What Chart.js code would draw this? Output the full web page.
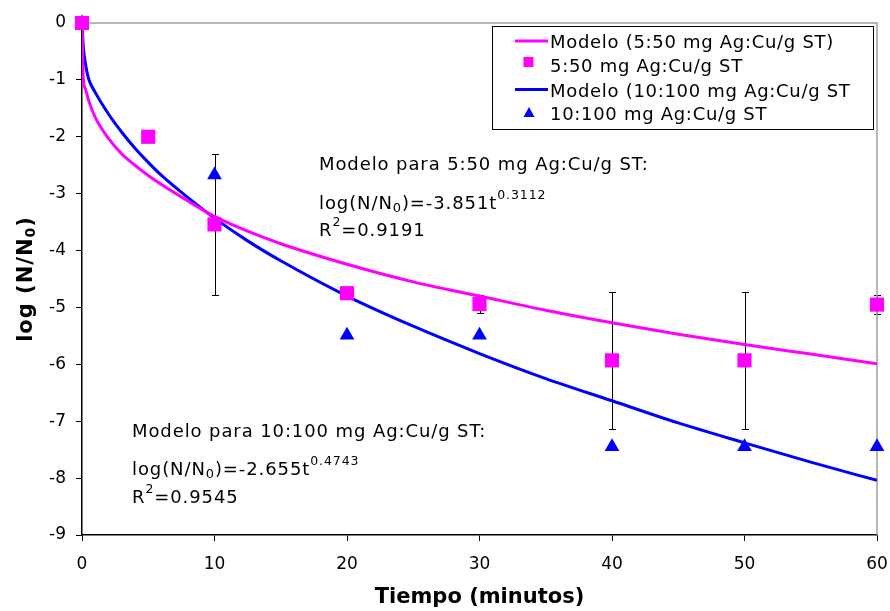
<!DOCTYPE html>
<html>
<head>
<meta charset="utf-8">
<script src="https://cdn.jsdelivr.net/npm/chart.js@4/dist/chart.umd.min.js"></script>
<style>
  html, body { margin: 0; padding: 0; background: #fff; }
  #wrap { width: 890px; height: 611px; position: relative; }
</style>
</head>
<body>
<div id="wrap"><canvas id="chart" width="890" height="611"></canvas></div>
<script>
// measured points (minutes vs log reduction)
const tiempoMagenta = [0, 5, 10, 20, 30, 40, 50, 60];
const logMagenta = [0, -2.0, -3.54, -4.75, -4.94, -5.93, -5.93, -4.95];
const errMagenta = [0, 0, 1.24, 0, 0.16, 1.2, 1.2, 0.17];

const tiempoAzul = [0, 10, 20, 30, 40, 50, 60];
const logAzul = [0, -2.67, -5.49, -5.49, -7.45, -7.45, -7.45];

// fitted model curves, sampled along time
const tiempoModelo = [0, 0.1, 0.25, 0.5, 1, 2, 3, 4, 5, 6, 8, 10, 12.5, 15, 20, 25, 30, 35, 40, 45, 50, 55, 60];
const modeloMagenta = [0, -0.98, -1.15, -1.36, -1.66, -2.03, -2.3, -2.5, -2.68, -2.84, -3.13, -3.4, -3.66, -3.88, -4.24, -4.55, -4.8, -5.05, -5.27, -5.47, -5.65, -5.82, -5.99];
const modeloAzul = [0, -0.42, -0.7, -0.98, -1.22, -1.6, -1.92, -2.2, -2.45, -2.68, -3.07, -3.43, -3.83, -4.18, -4.8, -5.33, -5.81, -6.25, -6.64, -7.03, -7.38, -7.72, -8.04];

const xTicks = [0, 10, 20, 30, 40, 50, 60];
const yTicks = [0, -1, -2, -3, -4, -5, -6, -7, -8, -9];

const MAGENTA = '#ff00ff';
const AZUL = '#0000ff';
const FONT = '"DejaVu Sans", Verdana, sans-serif';

const pairs = (xs, ys) => xs.map((x, i) => ({ x: x, y: ys[i] }));

const legendItems = [
  { text: 'Modelo (5:50 mg Ag:Cu/g ST)', color: MAGENTA, kind: 'line' },
  { text: '5:50 mg Ag:Cu/g ST', color: MAGENTA, kind: 'rect' },
  { text: 'Modelo (10:100 mg Ag:Cu/g ST', color: AZUL, kind: 'line' },
  { text: '10:100 mg Ag:Cu/g ST', color: AZUL, kind: 'triangle' }
];

const notes = [
  { x: 319, y: 170, parts: [{ t: 'Modelo para 5:50 mg Ag:Cu/g ST:' }] },
  { x: 319, y: 209, parts: [{ t: 'log(N/N' }, { t: '0', sub: true }, { t: ')=-3.851t' }, { t: '0.3112', sup: true }] },
  { x: 319, y: 236, parts: [{ t: 'R' }, { t: '2', sup: true }, { t: '=0.9191' }] },
  { x: 132, y: 437, parts: [{ t: 'Modelo para 10:100 mg Ag:Cu/g ST:' }] },
  { x: 132, y: 475, parts: [{ t: 'log(N/N' }, { t: '0', sub: true }, { t: ')=-2.655t' }, { t: '0.4743', sup: true }] },
  { x: 132, y: 503, parts: [{ t: 'R' }, { t: '2', sup: true }, { t: '=0.9545' }] }
];

function drawRich(ctx, x, y, parts, size) {
  let cx = x;
  parts.forEach(p => {
    const fs = p.sub ? 13 : (p.sup ? 12.5 : size);
    ctx.font = fs + 'px ' + FONT;
    const dy = p.sub ? 2.5 : (p.sup ? -10 : 0);
    ctx.fillText(p.t, cx, y + dy);
    cx += ctx.measureText(p.t).width;
  });
}

// error bars behind the markers
const errorBars = {
  id: 'errorBars',
  beforeDatasetsDraw(chart) {
    const ctx = chart.ctx;
    const xs = chart.scales.x, ys = chart.scales.y;
    ctx.save();
    ctx.strokeStyle = '#000';
    ctx.lineWidth = 1;
    tiempoMagenta.forEach((t, i) => {
      const e = errMagenta[i];
      if (!e) return;
      const px = Math.round(xs.getPixelForValue(t)) + 0.5;
      const top = Math.round(ys.getPixelForValue(logMagenta[i] + e)) + 0.5;
      const bot = Math.round(ys.getPixelForValue(logMagenta[i] - e)) + 0.5;
      ctx.beginPath();
      ctx.moveTo(px, top); ctx.lineTo(px, bot);
      ctx.moveTo(px - 3.5, top); ctx.lineTo(px + 3.5, top);
      ctx.moveTo(px - 3.5, bot); ctx.lineTo(px + 3.5, bot);
      ctx.stroke();
    });
    ctx.restore();
  }
};

// plot frame, titles, model notes and legend box
const decor = {
  id: 'decor',
  beforeDatasetsDraw(chart) {
    const ctx = chart.ctx, a = chart.chartArea;
    ctx.save();
    ctx.strokeStyle = '#a0a0a0';
    ctx.lineWidth = 1.5;
    ctx.beginPath();
    ctx.moveTo(a.left, a.top); ctx.lineTo(a.right, a.top); ctx.lineTo(a.right, a.bottom);
    ctx.stroke();
    ctx.restore();
  },
  afterDraw(chart) {
    const ctx = chart.ctx, a = chart.chartArea;
    ctx.save();
    ctx.fillStyle = '#000';
    ctx.textBaseline = 'alphabetic';
    ctx.textAlign = 'left';
    ctx.letterSpacing = '0.9px';
    notes.forEach(n => drawRich(ctx, n.x, n.y, n.parts, 18));

    // axis titles
    ctx.letterSpacing = '0px';
    ctx.font = 'bold 21px ' + FONT;
    ctx.textAlign = 'center';
    ctx.textBaseline = 'middle';
    ctx.fillText('Tiempo (minutos)', (a.left + a.right) / 2, 598);
    ctx.save();
    ctx.translate(24, (a.top + a.bottom) / 2);
    ctx.rotate(-Math.PI / 2);
    ctx.letterSpacing = '1px';
    ctx.textAlign = 'left';
    ctx.textBaseline = 'alphabetic';
    const t1 = 'log (N/N', t2 = '0', t3 = ')';
    const w1 = ctx.measureText(t1).width;
    ctx.font = 'bold 14px ' + FONT;
    const w2 = ctx.measureText(t2).width;
    ctx.font = 'bold 21px ' + FONT;
    const w3 = ctx.measureText(t3).width;
    let sx = -(w1 + w2 + w3) / 2;
    const base = 8;
    ctx.fillText(t1, sx, base); sx += w1;
    ctx.font = 'bold 14px ' + FONT;
    ctx.fillText(t2, sx, base + 3); sx += w2;
    ctx.font = 'bold 21px ' + FONT;
    ctx.fillText(t3, sx, base);
    ctx.restore();

    // legend
    const bx = 492.5, by = 26.5, bw = 381, bh = 103;
    ctx.fillStyle = '#fff';
    ctx.fillRect(bx, by, bw, bh);
    ctx.strokeStyle = '#000';
    ctx.lineWidth = 1;
    ctx.strokeRect(bx, by, bw, bh);
    const baselines = [47.5, 72, 96.5, 120];
    const marks = [41, 62, 89.5, 112];
    ctx.font = '18px ' + FONT;
    ctx.letterSpacing = '0.7px';
    ctx.textAlign = 'left';
    ctx.textBaseline = 'alphabetic';
    legendItems.forEach((it, i) => {
      const y = marks[i];
      ctx.fillStyle = it.color;
      ctx.strokeStyle = it.color;
      if (it.kind === 'line') {
        ctx.lineWidth = 3;
        ctx.beginPath(); ctx.moveTo(515, y); ctx.lineTo(548, y); ctx.stroke();
      } else if (it.kind === 'rect') {
        ctx.fillRect(523.5, y - 5, 10, 10);
      } else {
        ctx.beginPath();
        ctx.moveTo(529, y - 5); ctx.lineTo(534.5, y + 5); ctx.lineTo(523.5, y + 5);
        ctx.closePath(); ctx.fill();
      }
      ctx.fillStyle = '#000';
      ctx.fillText(it.text, 550, baselines[i]);
    });
    ctx.restore();
  }
};

new Chart(document.getElementById('chart'), {
  type: 'scatter',
  data: {
    datasets: [
      {
        label: '5:50 mg Ag:Cu/g ST',
        data: pairs(tiempoMagenta, logMagenta),
        pointStyle: 'rect',
        pointRadius: 10,
        backgroundColor: MAGENTA,
        borderColor: MAGENTA,
        borderWidth: 0,
        clip: false
      },
      {
        label: '10:100 mg Ag:Cu/g ST',
        data: pairs(tiempoAzul, logAzul),
        pointStyle: 'triangle',
        pointRadius: 8.5,
        backgroundColor: AZUL,
        borderColor: AZUL,
        borderWidth: 0,
        clip: false
      },
      {
        label: 'Modelo (5:50 mg Ag:Cu/g ST)',
        data: pairs(tiempoModelo, modeloMagenta),
        showLine: true,
        cubicInterpolationMode: 'monotone',
        borderColor: MAGENTA,
        borderWidth: 3,
        pointRadius: 0
      },
      {
        label: 'Modelo (10:100 mg Ag:Cu/g ST',
        data: pairs(tiempoModelo, modeloAzul),
        showLine: true,
        cubicInterpolationMode: 'monotone',
        borderColor: AZUL,
        borderWidth: 3,
        pointRadius: 0
      }
    ]
  },
  options: {
    responsive: false,
    animation: false,
    events: [],
    layout: { padding: { top: 23, right: 13, left: 0, bottom: 0 } },
    plugins: { legend: { display: false }, tooltip: { enabled: false } },
    scales: {
      x: {
        type: 'linear',
        min: 0, max: 60,
        afterBuildTicks: s => { s.ticks = xTicks.map(v => ({ value: v })); },
        afterFit: s => { s.height = 76; s.paddingLeft = 0; s.paddingRight = 0; },
        grid: { display: true, drawOnChartArea: false, drawTicks: true, tickLength: 6, color: '#000' },
        border: { color: '#000', width: 1.5 },
        ticks: { color: '#000', font: { family: FONT, size: 17 }, padding: 13, maxRotation: 0 }
      },
      y: {
        type: 'linear',
        min: -9, max: 0,
        afterBuildTicks: s => { s.ticks = yTicks.map(v => ({ value: v })); },
        afterFit: s => { s.width = 82; },
        grid: { display: true, drawOnChartArea: false, drawTicks: true, tickLength: 6, color: '#000' },
        border: { color: '#000', width: 1.5 },
        ticks: { color: '#000', font: { family: FONT, size: 17 }, padding: 10 }
      }
    }
  },
  plugins: [errorBars, decor]
});
</script>
</body>
</html>
